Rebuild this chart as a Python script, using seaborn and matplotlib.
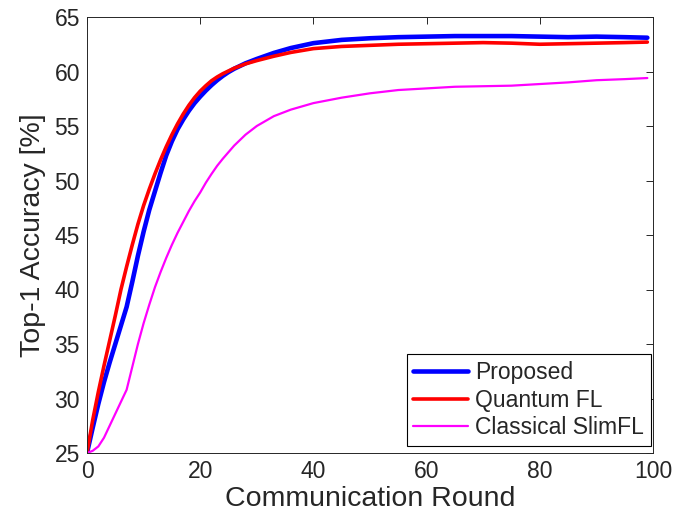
import numpy as np
import matplotlib
matplotlib.use("Agg")
import matplotlib.pyplot as plt
import pandas as pd
import seaborn as sns

rounds = list(range(0, 31)) + [33, 36, 40, 45, 50, 55, 60, 65, 70, 75, 80, 85, 90, 95, 99]

proposed = [25.0, 27.3, 29.5, 31.5, 33.3, 35.0, 36.7, 38.4, 40.7, 43.1,
            45.3, 47.3, 49.0, 50.7, 52.3, 53.6, 54.7, 55.6, 56.4, 57.1,
            57.7, 58.25, 58.75, 59.2, 59.6, 59.95, 60.25, 60.5, 60.75, 60.95,
            61.15, 61.7, 62.15, 62.6, 62.9, 63.05, 63.15, 63.2, 63.25, 63.25,
            63.25, 63.2, 63.15, 63.2, 63.15, 63.1]

quantum_fl = [25.0, 28.0, 30.6, 33.0, 35.3, 37.6, 40.0, 42.1, 44.1, 46.0,
              47.7, 49.2, 50.6, 51.9, 53.1, 54.2, 55.2, 56.1, 56.9, 57.6,
              58.2, 58.7, 59.15, 59.5, 59.8, 60.05, 60.3, 60.5, 60.7, 60.85,
              61.0, 61.4, 61.75, 62.1, 62.3, 62.4, 62.5, 62.55, 62.6, 62.65,
              62.6, 62.5, 62.55, 62.6, 62.65, 62.7]

classical_slimfl = [25.0, 25.2, 25.6, 26.4, 27.5, 28.6, 29.7, 30.8, 32.9, 35.0,
                    36.9, 38.6, 40.2, 41.6, 42.9, 44.1, 45.2, 46.2, 47.2, 48.1,
                    48.9, 49.8, 50.6, 51.35, 52.0, 52.6, 53.2, 53.7, 54.2, 54.6,
                    55.0, 55.9, 56.5, 57.1, 57.6, 58.0, 58.3, 58.45, 58.6, 58.65,
                    58.7, 58.85, 59.0, 59.2, 59.3, 59.4]

xticks = [0, 20, 40, 60, 80, 100]
yticks = [25, 30, 35, 40, 45, 50, 55, 60, 65]

sns.set_style("white")
plt.rcParams['font.family'] = ['Liberation Sans', 'DejaVu Sans']

fig = plt.figure(figsize=(6.81, 5.27), dpi=100)
ax = fig.add_axes([87 / 681, 1 - 453 / 527, 566 / 681, 436 / 527])

sns.lineplot(x=rounds, y=proposed, color='#0000ff', linewidth=3.3, label='Proposed', ax=ax)
sns.lineplot(x=rounds, y=quantum_fl, color='#ff0000', linewidth=2.6, label='Quantum FL', ax=ax)
sns.lineplot(x=rounds, y=classical_slimfl, color='#ff00ff', linewidth=1.6, label='Classical SlimFL', ax=ax)

ax.set_xlim(0, 100)
ax.set_ylim(25, 65)
ax.set_xticks(xticks)
ax.set_yticks(yticks)

dark = '#262626'
for s in ax.spines.values():
    s.set_visible(True)
    s.set_color(dark)
    s.set_linewidth(0.7)
ax.tick_params(direction='in', length=5, width=0.7, color=dark, labelcolor=dark,
               labelsize=16.5, top=True, right=True, pad=5)

ax.set_xlabel('Communication Round', fontsize=20.5, color=dark, labelpad=2)
ax.set_ylabel('Top-1 Accuracy [%]', fontsize=20.5, color=dark, labelpad=6)

leg = ax.legend(loc='lower right', bbox_to_anchor=(0.9965, 0.016), borderaxespad=0,
                fontsize=16.5, frameon=True, fancybox=False, handlelength=2.4,
                handletextpad=0.3, labelspacing=0.2, borderpad=0.3)
leg.get_frame().set_edgecolor('black')
leg.get_frame().set_linewidth(0.8)
leg.get_frame().set_alpha(1)

fig.savefig('out.png', dpi=100)
